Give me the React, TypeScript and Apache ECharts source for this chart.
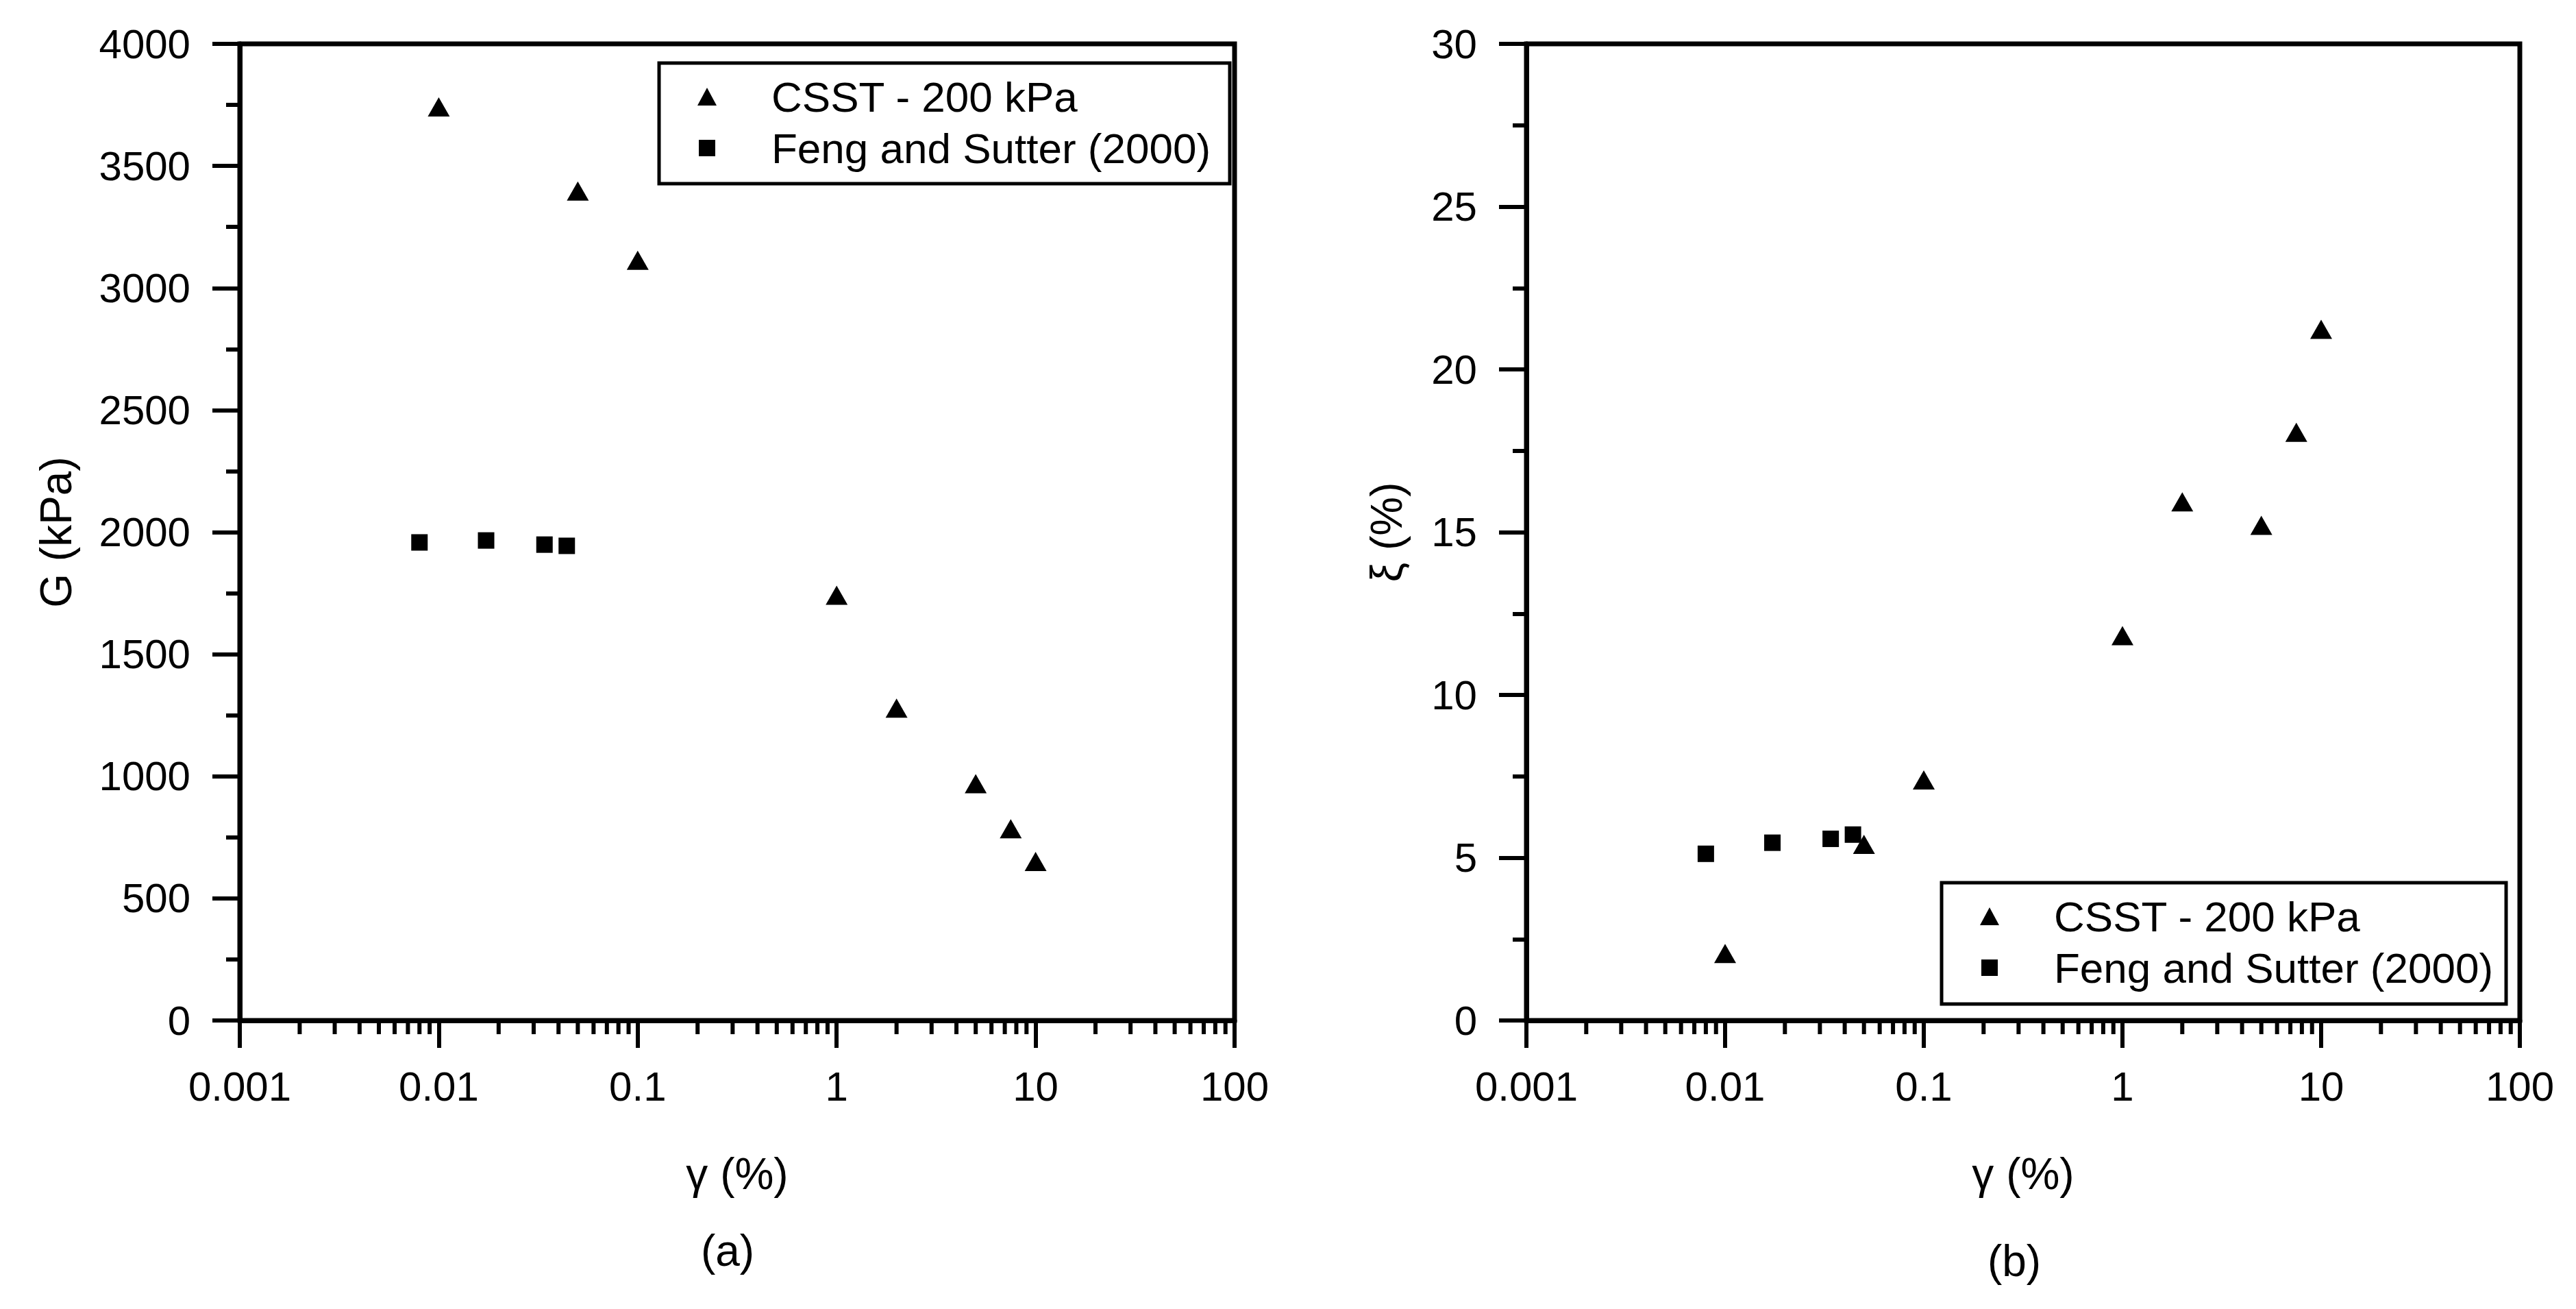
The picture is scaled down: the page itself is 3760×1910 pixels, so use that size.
import React, { useEffect, useRef } from "react";
import * as echarts from "echarts";

// ---- data ----
const csstStrain = [0.01, 0.05, 0.1, 1, 2, 5, 7.5, 10];
const csstG = [3742, 3397, 3114, 1742, 1279, 970, 785, 651];
const csstDamping = [2.06, 5.41, 7.39, 11.82, 15.93, 15.21, 18.07, 21.23];

const fengStrain = [0.008, 0.0173, 0.034, 0.044];
const fengG = [1958, 1966, 1949, 1944];
const fengDamping = [5.12, 5.46, 5.58, 5.71];

const seriesNames = ["CSST - 200 kPa", "Feng and Sutter (2000)"];
const xTickLabels = ["0.001", "0.01", "0.1", "1", "10", "100"];
const xDecades = [0.001, 0.01, 0.1, 1, 10];
const minorMultipliers = [2, 3, 4, 5, 6, 7, 8, 9];
const gTicks = { min: 0, max: 4000, interval: 500 };
const dampTicks = { min: 0, max: 30, interval: 5 };
const panelLabels = ["(a)", "(b)"];
const xName = "γ (%)";
const yNames = ["G (kPa)", "ξ (%)"];

const FONT = "'Liberation Sans', Arial, sans-serif";
const BLACK = "#000";
const AXIS_W = 7;
const TICK_W = 6;

const pairs = (xs: number[], ys: number[]) => xs.map((x, i) => [x, ys[i]]);

export default function App() {
  const ref = useRef<HTMLDivElement>(null);

  useEffect(() => {
    if (!ref.current) return;
    const chart = echarts.init(ref.current, undefined, { renderer: "svg" });

    const minorTickValues: number[] = [];
    xDecades.forEach((d) => minorMultipliers.forEach((m) => minorTickValues.push(d * m)));

    const grids = [
      { left: 350, top: 64, width: 1452, height: 1425 },
      { left: 2228, top: 64, width: 1450, height: 1425 },
    ];

    const xAxisBase = (gridIndex: number) => ({
      type: "log",
      logBase: 10,
      gridIndex,
      min: 0.001,
      max: 100,
      name: xName,
      nameLocation: "middle",
      nameGap: 192,
      nameTextStyle: { fontSize: 64, fontFamily: FONT, color: BLACK },
      axisLine: { show: true, onZero: false, lineStyle: { color: BLACK, width: AXIS_W } },
      axisTick: { show: true, inside: false, length: 40, lineStyle: { color: BLACK, width: TICK_W } },
      minorTick: { show: false },
      splitLine: { show: false },
      axisLabel: {
        fontSize: 60,
        fontFamily: FONT,
        color: BLACK,
        margin: 66,
        formatter: (v: number) => xTickLabels[Math.round(Math.log10(v)) + 3] ?? "",
      },
    });

    const yAxisBase = (gridIndex: number, t: any, name: string, nameGap: number) => ({
      type: "value",
      gridIndex,
      min: t.min,
      max: t.max,
      interval: t.interval,
      name,
      nameLocation: "middle",
      nameGap,
      nameTextStyle: { fontSize: 64, fontFamily: FONT, color: BLACK },
      axisLine: { show: true, onZero: false, lineStyle: { color: BLACK, width: AXIS_W } },
      axisTick: { show: true, inside: false, length: 40, lineStyle: { color: BLACK, width: TICK_W } },
      minorTick: { show: true, splitNumber: 2, length: 20, lineStyle: { color: BLACK, width: TICK_W } },
      splitLine: { show: false },
      minorSplitLine: { show: false },
      axisLabel: {
        fontSize: 60,
        fontFamily: FONT,
        color: BLACK,
        margin: 72,
        formatter: (v: number) => String(v),
      },
    });

    const scatter = (name: string, idx: number, data: number[][], symbol: string, size: any) => ({
      type: "scatter",
      name,
      xAxisIndex: idx,
      yAxisIndex: idx,
      data,
      symbol,
      symbolSize: size,
      itemStyle: { color: BLACK, opacity: 1 },
      silent: true,
    });

    const minorTickSeries = (idx: number, yMin: number) => ({
      type: "custom",
      xAxisIndex: idx,
      yAxisIndex: idx,
      clip: false,
      silent: true,
      data: minorTickValues.map((v) => [v, yMin]),
      renderItem: (_p: any, api: any) => {
        const pt = api.coord([api.value(0), api.value(1)]);
        return {
          type: "line",
          shape: { x1: pt[0], y1: pt[1], x2: pt[0], y2: pt[1] + 20 },
          style: { stroke: BLACK, lineWidth: TICK_W },
        };
      },
    });

    const legendGraphic = (bx: number, by: number, bw: number, bh: number) => {
      const cx = bx + 70;
      const r1 = by + 49;
      const r2 = by + 124;
      const tx = bx + 164;
      return {
        type: "group",
        children: [
          {
            type: "rect",
            shape: { x: bx, y: by, width: bw, height: bh },
            style: { fill: "#fff", stroke: BLACK, lineWidth: 5 },
          },
          {
            type: "polygon",
            shape: { points: [[cx, r1 - 13], [cx + 14, r1 + 13], [cx - 14, r1 + 13]] },
            style: { fill: BLACK },
          },
          {
            type: "rect",
            shape: { x: cx - 12, y: r2 - 12, width: 24, height: 24 },
            style: { fill: BLACK },
          },
          {
            type: "text",
            x: tx,
            y: r1,
            style: {
              text: seriesNames[0], fontSize: 62, fontFamily: FONT, fill: BLACK,
              align: "left", verticalAlign: "middle", textAlign: "left", textVerticalAlign: "middle",
            },
          },
          {
            type: "text",
            x: tx,
            y: r2,
            style: {
              text: seriesNames[1], fontSize: 62, fontFamily: FONT, fill: BLACK,
              align: "left", verticalAlign: "middle", textAlign: "left", textVerticalAlign: "middle",
            },
          },
        ],
      };
    };

    const panelText = (text: string, x: number, y: number) => ({
      type: "text",
      x,
      y,
      style: {
        text, fontSize: 64, fontFamily: FONT, fill: BLACK,
        align: "center", verticalAlign: "middle", textAlign: "center", textVerticalAlign: "middle",
      },
    });

    chart.setOption({
      animation: false,
      backgroundColor: "#fff",
      grid: grids.map((g) => ({ ...g, show: true, borderColor: BLACK, borderWidth: AXIS_W, backgroundColor: "transparent", containLabel: false })),
      xAxis: [xAxisBase(0), xAxisBase(1)],
      yAxis: [
        yAxisBase(0, gTicks, yNames[0], 236),
        yAxisBase(1, dampTicks, yNames[1], 172),
      ],
      series: [
        scatter(seriesNames[0], 0, pairs(csstStrain, csstG), "triangle", [32, 28]),
        scatter(seriesNames[1], 0, pairs(fengStrain, fengG), "rect", 24),
        scatter(seriesNames[0], 1, pairs(csstStrain, csstDamping), "triangle", [32, 28]),
        scatter(seriesNames[1], 1, pairs(fengStrain, fengDamping), "rect", 24),
        minorTickSeries(0, gTicks.min),
        minorTickSeries(1, dampTicks.min),
      ],
      graphic: [
        legendGraphic(962, 92, 833, 176),
        legendGraphic(2834, 1288, 824, 177),
        panelText(panelLabels[0], 1062, 1825),
        panelText(panelLabels[1], 2940, 1840),
      ],
    });

    return () => chart.dispose();
  }, []);

  return (
    <div
      ref={ref}
      style={{ position: "fixed", left: 0, top: 0, width: 3760, height: 1910, background: "#fff" }}
    />
  );
}
